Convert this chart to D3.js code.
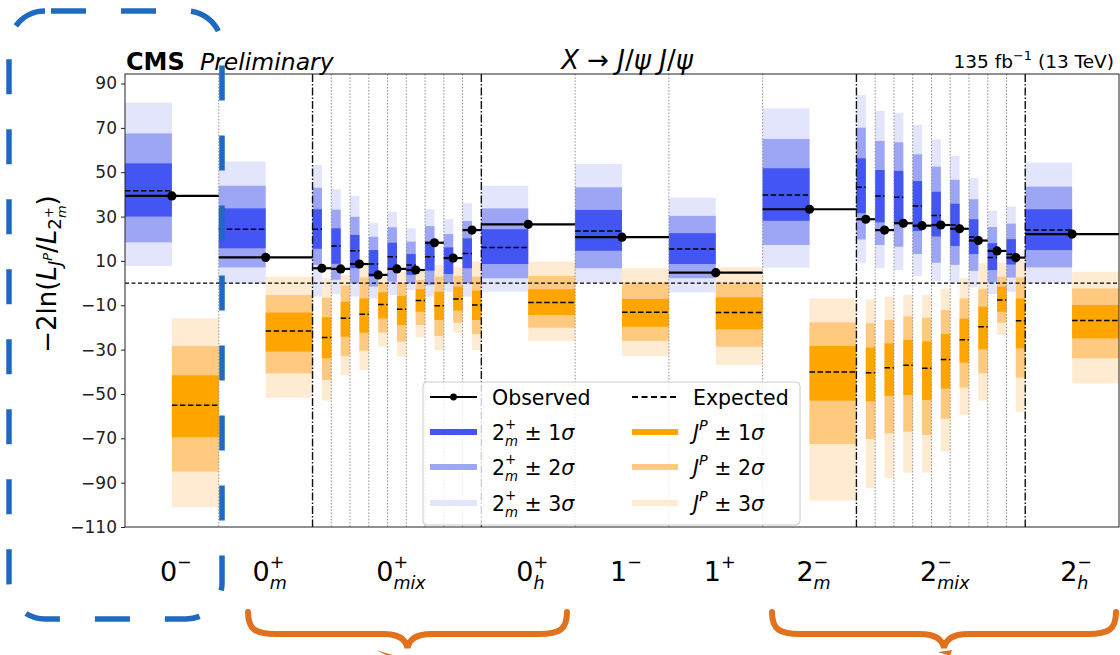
<!DOCTYPE html>
<html><head><meta charset="utf-8">
<script src="https://cdn.jsdelivr.net/npm/d3@7"></script>
<style>body{margin:0;background:#fff}svg{display:block}text{font-family:"DejaVu Sans",sans-serif;white-space:pre}</style>
</head><body><svg id="c" width="1120" height="655"></svg>
<script>
// ---- groups / categories ----
const groupBase = ["0","0","0","0","1","1","2","2","2"];
const groupSup  = ["−","+","+","+","−","+","−","−","−"];
const groupSub  = ["","m","mix","h","","","m","mix","h"];
// group index of each bin (mixed hypotheses have 9 sub-bins)
const binGroup = [0,1,2,2,2,2,2,2,2,2,2,3,4,5,6,7,7,7,7,7,7,7,7,7,8];
const yTicks = [90,70,50,30,10,-10,-30,-50,-70,-90,-110];

// ---- observed / expected ----
const obs  = [39.3,11.6, 6.7,6.4,8.6,3.7,6.4,5.9,18.2,11.3,23.9, 26.5,20.7,4.7,33.3, 28.8,23.9,27.0,25.9,26.2,24.5,19.2,14.5,11.5, 22.1];
const expBlue = [41.7,24.3, 24.3,16.7,14.6,8.6,11.9,8.2,11.9,11.2,13.4, 16.0,23.5,15.4,39.7, 43.2,39.3,38.7,34.8,30.5,26.2,20.8,11.5,13.0, 23.9];
const expOrange = [-55.1,-21.6, -24.5,-15.9,-14.1,-9.6,-11.8,-7.9,-10.2,-7.2,-9.9, -8.7,-13.2,-13.3,-40.1, -40.4,-38.2,-37.1,-38.4,-34.5,-25.5,-19.7,-7.6,-17.0, -16.9];

// ---- 2m+ bands ----
const blue1Lo = [30.0,15.7, 15.5,8.7,6.7,2.9,6.7,3.7,5.6,4.1,6.7, 8.6,14.6,8.6,28.1, 31.5,27.4,27.2,23.5,21.0,16.7,13.1,5.9,8.4, 14.9];
const blue1Hi = [54.0,33.7, 33.3,24.7,21.7,14.9,18.2,13.1,18.7,16.1,20.2, 24.3,33.0,22.5,51.8, 56.3,51.0,50.6,46.0,41.2,35.8,28.8,18.0,19.8, 33.3];
const blue2Lo = [18.4,7.1, 8.2,1.5,-0.1,-1.6,0.6,-0.1,-0.9,-0.1,-0.1, 2.2,6.7,2.2,17.2, 19.7,17.2,16.4,13.1,9.2,8.2,5.5,0.3,2.5, 7.1];
const blue2Hi = [67.5,43.9, 43.0,33.1,29.9,20.9,25.2,18.7,25.7,22.1,28.0, 33.7,43.2,30.3,65.0, 70.1,64.1,63.5,58.1,52.5,46.6,37.8,25.3,26.8, 43.5];
const blue3Lo = [7.7,-0.4, -6.1,-5.0,-6.1,-6.9,-5.4,-3.1,-6.1,-3.9,-6.1, -3.9,0.2,-4.2,6.9, 9.0,6.7,5.9,3.2,1.0,0.6,-1.9,-4.9,-3.9, 0.2];
const blue3Hi = [81.4,54.8, 53.3,42.3,39.3,27.2,32.2,24.7,33.3,28.8,36.0, 43.9,53.7,38.5,78.8, 84.8,77.6,76.8,71.3,64.8,57.3,47.3,32.7,34.5, 54.3];

// ---- J^P bands ----
const orange1Hi = [-41.6,-13.3, -15.4,-8.4,-6.9,-4.2,-5.8,-2.7,-3.9,-1.6,-3.4, -2.8,-7.2,-6.4,-28.4, -29.1,-27.2,-25.7,-26.3,-23.0,-16.1,-10.6,-1.6,-6.9, -9.9];
const orange1Lo = [-69.5,-30.9, -33.9,-24.2,-22.4,-15.9,-18.9,-12.9,-16.6,-12.4,-16.6, -14.4,-19.7,-20.8,-53.0, -53.3,-50.9,-50.5,-52.7,-47.5,-35.9,-29.8,-12.9,-29.4, -24.9];
const orange2Hi = [-28.4,-5.4, -6.6,-1.0,2.5,-0.1,0.0,1.4,2.9,3.2,2.9, 3.2,0.2,0.2,-17.7, -18.1,-16.6,-15.1,-15.6,-12.2,-6.9,-2.6,2.9,2.5, -2.4];
const orange2Lo = [-85.0,-40.7, -43.7,-32.9,-30.5,-22.3,-26.4,-18.9,-23.9,-17.9,-23.0, -20.1,-26.0,-28.7,-72.6, -70.3,-67.7,-67.0,-68.5,-61.2,-47.1,-40.7,-17.9,-42.5, -33.9];
const orange3Hi = [-15.9,2.9, 2.2,3.5,8.2,3.7,5.2,5.2,8.2,7.4,9.7, 9.7,6.7,7.2,-6.9, -7.3,-6.2,-5.3,-5.4,-2.6,2.2,8.9,9.2,10.0, 5.1];
const orange3Lo = [-101.1,-51.7, -53.0,-41.4,-39.2,-28.7,-33.2,-24.4,-30.2,-22.4,-30.2, -26.0,-32.9,-36.9,-98.1, -92.5,-88.0,-85.5,-85.5,-76.0,-59.5,-53.0,-23.3,-58.2, -45.2];

const blueCols = ["#4356f3","#9da6f5","#e2e5fb"];
const orangeCols = ["#ffa500","#ffc97f","#ffebd1"];

// ---- layout ----
const X0=125, X1=1119, Y0=74, Y1=527;
const svg = d3.select("#c");
const groupCount = d3.rollup(binGroup, v=>v.length, d=>d);
const widths = binGroup.map(g => groupCount.get(g) > 1 ? 0.2 : 1);
const starts = []; let acc = 0; widths.forEach(w => { starts.push(acc); acc += w; });
const x = d3.scaleLinear().domain([0, acc]).range([X0, X1]);
const y = d3.scaleLinear().domain([-110, 94.3]).range([Y1, Y0]);

const bins = binGroup.map((g,i)=>({i, g, a: starts[i], b: starts[i]+widths[i], m: starts[i]+widths[i]/2}));

// rich text: one <text> element with positioned tspans
function rich(parent, parts, fs, anchor, fill){
  const t = parent.append("text").attr("fill",fill||"#000").attr("font-size",fs);
  let cur=0, lastStart=0; const spans=[];
  parts.forEach(p=>{
    const s=p.s||1; const xx = p.stack ? lastStart : cur;
    const ts=t.append("tspan").attr("x",xx).attr("y",-(p.up||0)*fs).attr("font-size",s*fs)
      .attr("font-style",p.it?"italic":"normal").attr("font-weight",p.b?"bold":"normal").text(p.t);
    const w=ts.node().getComputedTextLength();
    spans.push([ts,xx]);
    if(p.stack) cur=Math.max(cur,xx+w); else {lastStart=xx; cur=xx+w;}
  });
  const sh = anchor==="middle"?-cur/2:anchor==="end"?-cur:0;
  spans.forEach(([ts,xx])=>ts.attr("x",xx+sh));
  return t;
}

// ---- bands ----
const bandG = svg.append("g");
const blueLo=[blue3Lo,blue2Lo,blue1Lo], blueHi=[blue3Hi,blue2Hi,blue1Hi];
const orLo=[orange3Lo,orange2Lo,orange1Lo], orHi=[orange3Hi,orange2Hi,orange1Hi];
[0,1,2].forEach(k=>{
  bandG.selectAll(null).data(bins).enter().append("rect")
    .attr("x",d=>x(d.a)).attr("width",d=>x(d.m)-x(d.a))
    .attr("y",d=>y(blueHi[k][d.i])).attr("height",d=>y(blueLo[k][d.i])-y(blueHi[k][d.i]))
    .attr("fill",blueCols[2-k]);
  bandG.selectAll(null).data(bins).enter().append("rect")
    .attr("x",d=>x(d.m)).attr("width",d=>x(d.b)-x(d.m))
    .attr("y",d=>y(orHi[k][d.i])).attr("height",d=>y(orLo[k][d.i])-y(orHi[k][d.i]))
    .attr("fill",orangeCols[2-k]);
});

// ---- vertical separators ----
const sepG = svg.append("g");
const bounds = bins.slice(1).map(d=>{
  const prev = bins[d.i-1];
  const mixEdge = prev.g!==d.g && (groupCount.get(d.g)>1 || groupCount.get(prev.g)>1);
  return {v:d.a, mix:mixEdge};
});
sepG.selectAll("line").data(bounds).enter().append("line")
  .attr("x1",d=>x(d.v)).attr("x2",d=>x(d.v)).attr("y1",Y0).attr("y2",Y1)
  .attr("stroke",d=>d.mix?"#111":"#8a8a8a")
  .attr("stroke-width",d=>d.mix?1.4:0.9)
  .attr("stroke-dasharray",d=>d.mix?"8,2,1.5,2":"1.6,1.6");

// zero line
svg.append("line").attr("x1",X0).attr("x2",X1).attr("y1",y(0)).attr("y2",y(0))
  .attr("stroke","#000").attr("stroke-width",1.1).attr("stroke-dasharray","4,2.5");

// ---- expected dashes ----
const expG = svg.append("g");
expG.selectAll(null).data(bins).enter().append("line")
  .attr("x1",d=>x(d.a)).attr("x2",d=>x(d.m)).attr("y1",d=>y(expBlue[d.i])).attr("y2",d=>y(expBlue[d.i]))
  .attr("stroke","#000").attr("stroke-width",1.5).attr("stroke-dasharray","5.5,2.5");
expG.selectAll(null).data(bins).enter().append("line")
  .attr("x1",d=>x(d.m)).attr("x2",d=>x(d.b)).attr("y1",d=>y(expOrange[d.i])).attr("y2",d=>y(expOrange[d.i]))
  .attr("stroke","#000").attr("stroke-width",1.5).attr("stroke-dasharray","5.5,2.5");

// ---- observed ----
const obsG = svg.append("g");
obsG.selectAll("line").data(bins).enter().append("line")
  .attr("x1",d=>x(d.a)).attr("x2",d=>x(d.b)).attr("y1",d=>y(obs[d.i])).attr("y2",d=>y(obs[d.i]))
  .attr("stroke","#000").attr("stroke-width",2.2);
obsG.selectAll("circle").data(bins).enter().append("circle")
  .attr("cx",d=>x(d.m)).attr("cy",d=>y(obs[d.i])).attr("r",4.6).attr("fill","#000");

// ---- frame & axis ----
const yAxis = svg.append("g").attr("transform",`translate(${X0},0)`)
  .call(d3.axisLeft(y).tickValues(yTicks).tickSize(4).tickPadding(4).tickFormat(d3.format("d")));
yAxis.select(".domain").remove();
yAxis.selectAll("line").attr("stroke","#222");
yAxis.selectAll("text").attr("font-size",17).attr("font-family","DejaVu Sans").attr("fill","#222");
svg.append("rect").attr("x",X0).attr("y",Y0).attr("width",X1-X0).attr("height",Y1-Y0)
  .attr("fill","none").attr("stroke","#222").attr("stroke-width",1);

// ---- legend ----
const lg = svg.append("g");
lg.append("rect").attr("x",423).attr("y",382).attr("width",377).attr("height",143).attr("rx",4)
  .attr("fill","#fff").attr("fill-opacity",0.8).attr("stroke","#cccccc");
const rowY=[397,432,467,503], c1=[430,477], c2=[632,678];
lg.append("line").attr("x1",c1[0]).attr("x2",c1[1]).attr("y1",rowY[0]).attr("y2",rowY[0]).attr("stroke","#000").attr("stroke-width",2);
lg.append("circle").attr("cx",(c1[0]+c1[1])/2).attr("cy",rowY[0]).attr("r",3.4);
lg.append("line").attr("x1",c2[0]).attr("x2",c2[1]).attr("y1",rowY[0]).attr("y2",rowY[0]).attr("stroke","#000").attr("stroke-width",2).attr("stroke-dasharray","6,3.5");
[0,1,2].forEach(k=>{
  lg.append("line").attr("x1",c1[0]).attr("x2",c1[1]).attr("y1",rowY[k+1]).attr("y2",rowY[k+1]).attr("stroke",blueCols[k]).attr("stroke-width",6);
  lg.append("line").attr("x1",c2[0]).attr("x2",c2[1]).attr("y1",rowY[k+1]).attr("y2",rowY[k+1]).attr("stroke",orangeCols[k]).attr("stroke-width",6);
});
const LFS=20.5;
rich(lg.append("g").attr("transform",`translate(492,${rowY[0]+7.5})`),[{t:"Observed"}],LFS,"start");
rich(lg.append("g").attr("transform",`translate(693,${rowY[0]+7.5})`),[{t:"Expected"}],LFS,"start");
[1,2,3].forEach((n,k)=>{
  rich(lg.append("g").attr("transform",`translate(492,${rowY[k+1]+7.5})`),
    [{t:"2"},{t:"+",s:0.65,up:0.5},{t:"m",s:0.65,up:-0.3,it:true,stack:true},{t:" ± "+n},{t:"σ",it:true}],LFS,"start");
  rich(lg.append("g").attr("transform",`translate(693,${rowY[k+1]+7.5})`),
    [{t:"J",it:true},{t:"P",s:0.7,up:0.45,it:true},{t:" ± "+n},{t:"σ",it:true}],LFS,"start");
});

// ---- header texts ----
rich(svg.append("g").attr("transform","translate(126,70)"),[{t:"CMS",b:true}],24,"start");
rich(svg.append("g").attr("transform","translate(200,70)"),[{t:"Preliminary",it:true}],23.5,"start");
rich(svg.append("g").attr("transform","translate(627,69)"),
  [{t:"X",it:true},{t:" → "},{t:"J",it:true},{t:"/"},{t:"ψ",it:true},{t:" "},{t:"J",it:true},{t:"/"},{t:"ψ",it:true}],26,"middle");
rich(svg.append("g").attr("transform","translate(1114,68)"),
  [{t:"135 fb"},{t:"−1",s:0.7,up:0.42},{t:" (13 TeV)"}],18.5,"end");

// ---- y label ----
rich(svg.append("g").attr("transform","translate(56,274) rotate(-90)"),
  [{t:"−2ln("},{t:"L",it:true},{t:"J",it:true,s:0.7,up:-0.2},{t:"P",it:true,s:0.5,up:0.15},{t:"/"},
   {t:"L",it:true},{t:"2",s:0.7,up:-0.2},{t:"+",s:0.5,up:0.12},{t:"m",it:true,s:0.5,up:-0.38,stack:true},{t:")"}],26,"middle");

// ---- category labels ----
const gCenters = d3.rollups(bins, v=>(d3.min(v,d=>d.a)+d3.max(v,d=>d.b))/2, d=>d.g);
gCenters.forEach(([g,c])=>{
  const parts=[{t:groupBase[g]},{t:groupSup[g],s:0.65,up:0.5}];
  if(groupSub[g]) parts.push({t:groupSub[g],s:0.65,up:-0.3,it:true,stack:true});
  rich(svg.append("g").attr("transform",`translate(${x(c)+4},581)`),parts,27,"middle");
});

// ---- overlay annotations ----
const bx=9, by=11, bw=213, bh=608, r=36;
svg.append("path").attr("d",`M${bx+r},${by} H${bx+bw-r} A${r},${r} 0 0 1 ${bx+bw},${by+r} V${by+bh-r} A${r},${r} 0 0 1 ${bx+bw-r},${by+bh} H${bx+r} A${r},${r} 0 0 1 ${bx},${by+bh-r} V${by+r} A${r},${r} 0 0 1 ${bx+r},${by} Z`)
  .attr("fill","none").attr("stroke","#1f69be").attr("stroke-width",5.5)
  .attr("stroke-dasharray","35,35").attr("stroke-dashoffset",64);
function brace(x0,x1,yt,ym,yb){
  const xc=(x0+x1)/2;
  return `M${x0},${yt} C${x0},${ym-4} ${x0+8},${ym} ${x0+28},${ym} L${xc-24},${ym} C${xc-10},${ym} ${xc-2},${ym+4} ${xc},${yb} C${xc+2},${ym+4} ${xc+10},${ym} ${xc+24},${ym} L${x1-28},${ym} C${x1-8},${ym} ${x1},${ym-4} ${x1},${yt}`;
}
svg.append("path").attr("d",brace(248,567,612,634,648)).attr("fill","none").attr("stroke","#e2711d").attr("stroke-width",6).attr("stroke-linecap","round");
svg.append("path").attr("d",brace(772,1116,612,634,648)).attr("fill","none").attr("stroke","#e2711d").attr("stroke-width",6).attr("stroke-linecap","round");
svg.append("path").attr("d","M376,650 L396,656 L392,658 Z").attr("fill","#e2711d");
svg.append("path").attr("d","M938,652 L952,650 L950,656 Z").attr("fill","#e2711d");
</script></body></html>
